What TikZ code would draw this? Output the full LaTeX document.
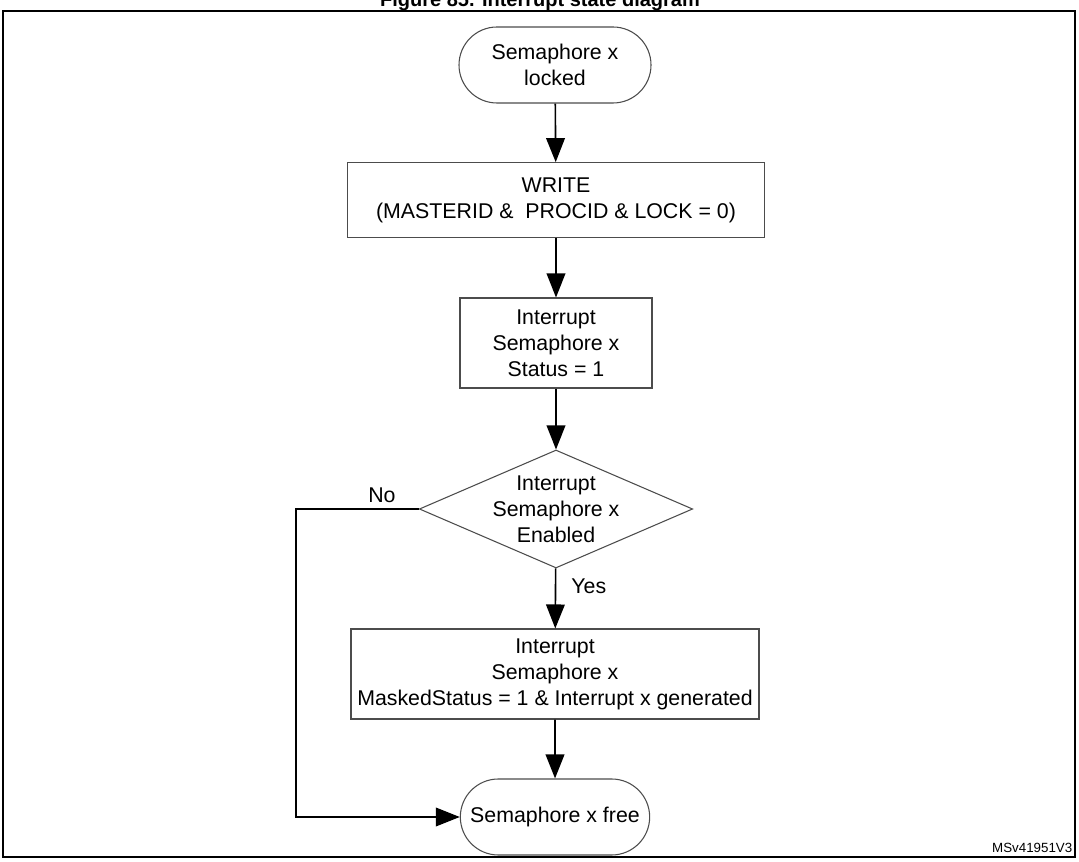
\documentclass[tikz,border=0pt]{standalone}
\usepackage{fontspec}
\setmainfont{Liberation Sans}
\usetikzlibrary{shapes.geometric, shapes.misc, arrows.meta}
\tikzset{
every node/.style={font=\fontsize{16}{19.5}\selectfont, align=center}, % text like the figure
box/.style={draw=black!70, line width=0.8pt, rectangle, inner sep=0pt},
term/.style={draw=black!70, line width=0.8pt, rounded rectangle, inner sep=0pt},
decide/.style={draw=black!70, line width=0.8pt, diamond, inner sep=0pt},
flow/.style={-{Triangle[length=18pt,width=14pt]}, line width=1.2pt},
}
\begin{document}
\begin{tikzpicture}[x=0.75pt, y=-0.75pt]
                \clip (0,0) rectangle (1079,862);
                \useasboundingbox (0,0) rectangle (1079,862);
                \node[font=\bfseries\fontsize{15}{18}\selectfont, anchor=base] (title) at (540,7) {Figure 85. Interrupt state diagram};
                \draw[line width=1pt] (3,11) rectangle (1075,857);
                \node[term, minimum width=144pt, minimum height=57pt] (locked) at (555,65) {Semaphore x\\locked};
                \node[box, minimum width=313pt, minimum height=56pt] (write) at (556,200) {WRITE\\(MASTERID \&\ \ PROCID \& LOCK = 0)};
                \node[box, minimum width=144pt, minimum height=67.5pt] (status) at (556,343) {Interrupt\\Semaphore x\\Status = 1};
                \node[decide, minimum width=205pt, minimum height=88.5pt,
                      label={[align=center]center:Interrupt\\Semaphore x\\Enabled}] (enabled) at (556,509) {};
                \node[box, minimum width=306pt, minimum height=67.5pt] (masked) at (555,674) {Interrupt\\Semaphore x\\MaskedStatus = 1 \& Interrupt x generated};
                \node[term, minimum width=142pt, minimum height=57pt] (free) at (555,817) {Semaphore x free};
                \coordinate (nocorner) at (296,509);
                \draw[flow] (locked) -- (write);
                \draw[flow] (write) -- (status);
                \draw[flow] (status) -- (enabled);
                \draw[flow] (enabled) -- node[right=8pt, pos=0.3] {Yes} (masked);
                \draw[flow] (masked) -- (free);
                \draw[flow] (enabled.west) -- node[above=1pt, pos=0.3] {No} (nocorner) |- (free.west);
                \node[font=\fontsize{10}{12}\selectfont, anchor=base east] (ref) at (1077,852) {MSv41951V3};
\end{tikzpicture}
\end{document}
